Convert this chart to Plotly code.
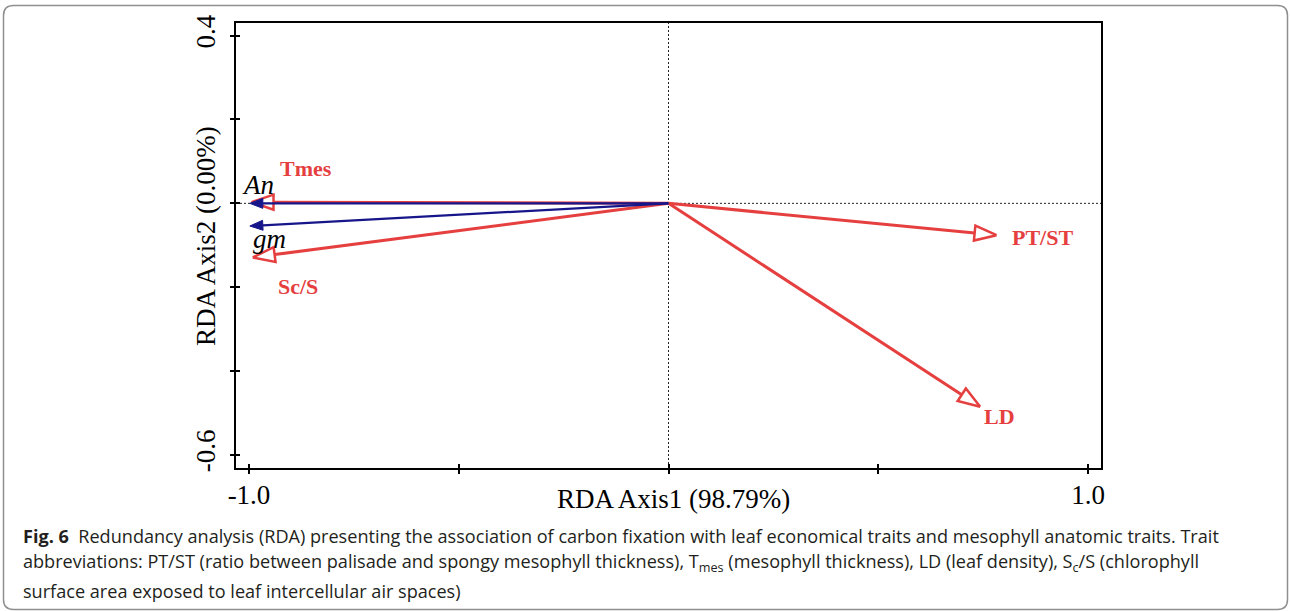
import math
import plotly.graph_objects as go

# ---------------- data ----------------
vec_names = ["Tmes", "Sc/S", "PT/ST", "LD", "An", "gm"]
vec_x = [-0.994, -0.991, 0.782, 0.743, -0.998, -0.998]
vec_y = [0.003, -0.129, -0.076, -0.485, 0.0, -0.054]
vec_group = ["trait", "trait", "trait", "trait", "carbon", "carbon"]

x_tickvals = [-1.0, -0.5, 0.0, 0.5, 1.0]
x_ticktext = ["-1.0", " ", " ", " ", "1.0"]
y_tickvals = [0.4, 0.2, 0.0, -0.2, -0.4, -0.6]
y_ticktext = ["0.4", " ", " ", " ", " ", "-0.6"]

x_title = "RDA Axis1 (98.79%)"
y_title = "RDA Axis2 (0.00%)"
caption_lines = [
    "<b>Fig. 6</b>  Redundancy analysis (RDA) presenting the association of carbon fixation with leaf economical traits and mesophyll anatomic traits. Trait",
    "abbreviations: PT/ST (ratio between palisade and spongy mesophyll thickness), T<sub>mes</sub> (mesophyll thickness), LD (leaf density), S<sub>c</sub>/S (chlorophyll",
    "surface area exposed to leaf intercellular air spaces)",
]

# ---------------- layout constants ----------------
W, H = 1290, 611
ML, MR, MT, MB = 236, 189, 23, 143
XR = [-1.031, 1.031]
YR = [-0.631, 0.430]
PW = W - ML - MR
PH = H - MT - MB
KX = PW / (XR[1] - XR[0])  # px per unit
KY = PH / (YR[1] - YR[0])

RED = "#E5403F"
NAVY = "#16168A"
SERIF = "Liberation Serif, Times New Roman, serif"

def px2paper(px, py):
    return (px - ML) / PW, (H - MB - py) / PH

style = {
    "trait": dict(color=RED, lw=3, L=22, w=7.5, filled=False),
    "carbon": dict(color=NAVY, lw=2.2, L=13, w=5, filled=True),
}
# label offsets (pixels)
label_shift = {
    "Tmes": (54, 34), "Sc/S": (45, -29), "PT/ST": (46, -2), "LD": (19, -10),
    "An": (8, 18), "gm": (20, -13),
}

fig = go.Figure()

order = [i for i in range(len(vec_names)) if vec_group[i] == "trait"] + \
        [i for i in range(len(vec_names)) if vec_group[i] == "carbon"]
for i in order:
    tx, ty = vec_x[i], vec_y[i]
    s = style[vec_group[i]]
    dxp, dyp = tx * KX, ty * KY
    n = math.hypot(dxp, dyp)
    ux, uy = dxp / n, dyp / n
    bxp, byp = dxp - ux * s["L"], dyp - uy * s["L"]
    px_, py_ = -uy, ux
    p1 = ((bxp + px_ * s["w"]) / KX, (byp + py_ * s["w"]) / KY)
    p2 = ((bxp - px_ * s["w"]) / KX, (byp - py_ * s["w"]) / KY)
    base = (bxp / KX, byp / KY)
    fig.add_trace(go.Scatter(x=[0, base[0]], y=[0, base[1]], mode="lines",
                             line=dict(color=s["color"], width=s["lw"]),
                             hoverinfo="skip", showlegend=False))
    if s["filled"]:
        fig.add_trace(go.Scatter(x=[tx, p1[0], p2[0], tx], y=[ty, p1[1], p2[1], ty],
                                 mode="lines", fill="toself", fillcolor=s["color"],
                                 line=dict(color=s["color"], width=1),
                                 hoverinfo="skip", showlegend=False))
    else:
        fig.add_trace(go.Scatter(x=[tx, p1[0], p2[0], tx], y=[ty, p1[1], p2[1], ty],
                                 mode="lines", line=dict(color=s["color"], width=2.5),
                                 hoverinfo="skip", showlegend=False))

for i, name in enumerate(vec_names):
    dx, dy = label_shift[name]
    if vec_group[i] == "trait":
        txt = "<b>%s</b>" % name
        font = dict(family=SERIF, size=22, color=RED)
    else:
        txt = "<i>%s</i>" % name
        font = dict(family=SERIF, size=27, color="black")
    fig.add_annotation(x=vec_x[i], y=vec_y[i], text=txt, showarrow=False,
                       xanchor="center", yanchor="middle",
                       xshift=dx, yshift=dy, font=font)

# dotted origin lines
fig.add_shape(type="line", xref="x", yref="paper", x0=0, x1=0, y0=0, y1=1,
              line=dict(color="#222", width=1, dash="2px,2px"), layer="below")
fig.add_shape(type="line", xref="paper", yref="y", x0=0, x1=1, y0=0, y1=0,
              line=dict(color="#222", width=1, dash="2px,2px"), layer="below")

# rounded outer frame
fx0, fy0 = px2paper(3.5, 5.5)
fx1, fy1 = px2paper(1287.5, 609.5)
rx, ry = 10 / PW, 10 / PH
path = (f"M{fx0+rx},{fy0} L{fx1-rx},{fy0} Q{fx1},{fy0} {fx1},{fy0-ry} "
        f"L{fx1},{fy1+ry} Q{fx1},{fy1} {fx1-rx},{fy1} L{fx0+rx},{fy1} "
        f"Q{fx0},{fy1} {fx0},{fy1+ry} L{fx0},{fy0-ry} Q{fx0},{fy0} {fx0+rx},{fy0} Z")
fig.add_shape(type="path", xref="paper", yref="paper", path=path,
              line=dict(color="#8f8f8f", width=1.5))

# axis titles
ax, ay = px2paper(673, 498.5)
fig.add_annotation(xref="paper", yref="paper", x=ax, y=ay, text=x_title, showarrow=False,
                   xanchor="center", yanchor="middle",
                   font=dict(family=SERIF, size=27, color="black"))
ax, ay = px2paper(206, 236)
fig.add_annotation(xref="paper", yref="paper", x=ax, y=ay, text=y_title, showarrow=False,
                   xanchor="center", yanchor="middle",
                   textangle=-90, font=dict(family=SERIF, size=27, color="black"))

# caption
cap_y = [535.5, 562.5, 590.5]
for line, cy in zip(caption_lines, cap_y):
    cx, cyp = px2paper(21, cy)
    fig.add_annotation(xref="paper", yref="paper", x=cx, y=cyp, xanchor="left",
                       yanchor="middle", text=line, showarrow=False, align="left",
                       font=dict(family="Open Sans, Noto Sans, sans-serif", size=18.1, color="#231f20"))

axis_common = dict(showgrid=False, zeroline=False, showline=True, linecolor="black",
                   linewidth=2, mirror=True, ticks="inside", ticklen=4, tickwidth=1.5,
                   tickcolor="black", tickfont=dict(family=SERIF, size=27, color="black"))
overlay_common = dict(showticklabels=False, ticks="outside", ticklen=5, tickwidth=1.5,
                      tickcolor="black", showgrid=False, zeroline=False, showline=False)
fig.update_layout(
    width=W, height=H, margin=dict(l=ML, r=MR, t=MT, b=MB),
    paper_bgcolor="white", plot_bgcolor="white", showlegend=False,
    xaxis=dict(range=XR, tickvals=x_tickvals, ticktext=x_ticktext,
               ticklabelstandoff=2, **axis_common),
    yaxis=dict(range=YR, tickvals=y_tickvals, ticktext=y_ticktext, tickangle=-90,
               ticklabelstandoff=8, **axis_common),
    xaxis2=dict(range=XR, overlaying="x", side="bottom", tickvals=x_tickvals, **overlay_common),
    yaxis2=dict(range=YR, overlaying="y", side="left", tickvals=y_tickvals, **overlay_common),
)
fig.add_trace(go.Scatter(x=[None], y=[None], xaxis="x2", yaxis="y2", showlegend=False))

fig.write_html("out.html", config={"displayModeBar": False},
               post_script="document.body.style.margin='0px';")
